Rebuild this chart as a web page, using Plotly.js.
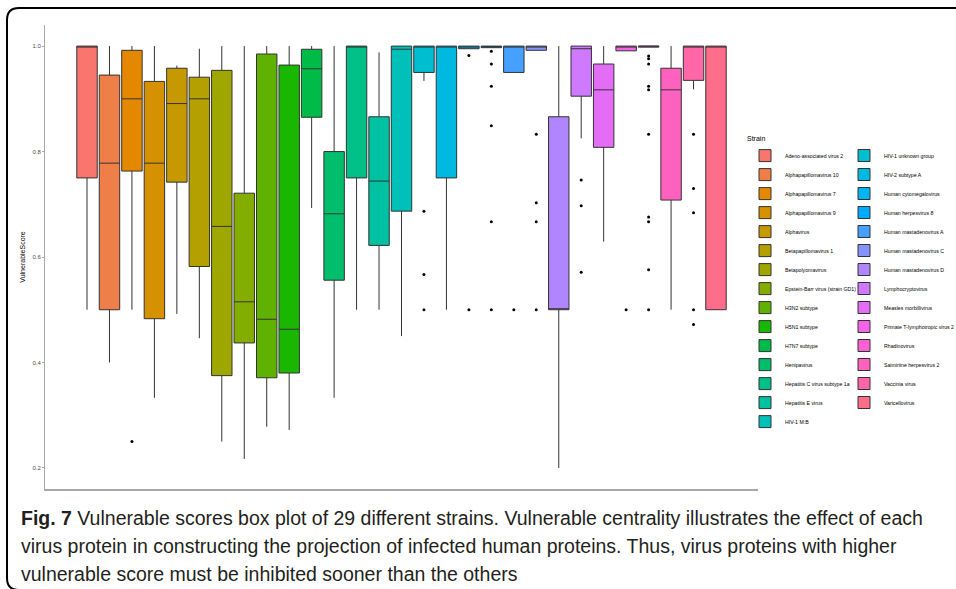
<!DOCTYPE html>
<html><head><meta charset="utf-8">
<script src="https://cdn.plot.ly/plotly-3.0.1.min.js"></script>
<style>html,body{margin:0;padding:0;background:#fff;} #chart{width:956px;height:589px;}</style>
</head><body><div id="chart"></div>
<script>
const strains = [
  'Adeno-associated virus 2', 'Alphapapillomavirus 10', 'Alphapapillomavirus 7', 'Alphapapillomavirus 9',
  'Alphavirus', 'Betapapillomavirus 1', 'Betapolyomavirus', 'Epstein-Barr virus (strain GD1)',
  'H3N2 subtype', 'H5N1 subtype', 'H7N7 subtype', 'Henipavirus', 'Hepatitis C virus subtype 1a',
  'Hepatitis E virus', 'HIV-1 M:B', 'HIV-1 unknown group', 'HIV-2 subtype A', 'Human cytomegalovirus',
  'Human herpesvirus 8', 'Human mastadenovirus A', 'Human mastadenovirus C', 'Human mastadenovirus D',
  'Lymphocryptovirus', 'Measles morbillivirus', 'Primate T-lymphotropic virus 2', 'Rhadinovirus',
  'Saimiriine herpesvirus 2', 'Vaccinia virus', 'Varicellovirus'
];
const lowerFence = [0.5, 0.4, 0.5, 0.333, 0.492, 0.446, 0.25, 0.217, 0.278, 0.272, 0.693, 0.333, 0.5, 0.5, 0.45,
  0.934, 0.5, 0.995, 0.997, 0.95, 0.992, 0.2, 0.825, 0.629, 0.991, 0.998, 0.5, 0.918, 0.5];
const q1 = [0.75, 0.5, 0.763, 0.483, 0.742, 0.582, 0.375, 0.437, 0.371, 0.38, 0.865, 0.556, 0.75, 0.622, 0.687,
  0.95, 0.75, 0.995, 0.997, 0.95, 0.992, 0.5, 0.905, 0.808, 0.991, 0.998, 0.708, 0.935, 0.5];
const median = [1.0, 0.778, 0.9, 0.778, 0.891, 0.9, 0.658, 0.515, 0.482, 0.463, 0.957, 0.682, 1.0, 0.744, 0.994,
  1.0, 1.0, 1.0, 1.0, 1.0, 1.0, 0.5, 0.995, 0.917, 1.0, 1.0, 0.917, 1.0, 1.0];
const q3 = [1.0, 0.945, 0.992, 0.933, 0.958, 0.941, 0.954, 0.721, 0.985, 0.964, 0.994, 0.8, 1.0, 0.866, 1.0,
  1.0, 1.0, 1.0, 1.0, 1.0, 1.0, 0.866, 1.0, 0.966, 1.0, 1.0, 0.958, 1.0, 1.0];
const upperFence = [1.0, 1.0, 1.0, 1.0, 0.963, 0.995, 1.0, 1.0, 1.0, 1.0, 1.0, 1.0, 1.0, 0.988, 1.0,
  1.0, 1.0, 1.0, 1.0, 1.0, 1.0, 1.0, 1.0, 1.0, 1.0, 1.0, 1.0, 1.0, 1.0];
const outliers = [
  [], [], [0.25], [], [], [], [], [], [], [], [], [], [], [], [],
  [0.687, 0.567, 0.5], [], [0.982, 0.5], [0.99, 0.966, 0.924, 0.849, 0.667, 0.5], [0.5],
  [0.833, 0.703, 0.667, 0.5], [], [0.746, 0.697, 0.571], [], [0.5],
  [0.981, 0.976, 0.966, 0.924, 0.917, 0.833, 0.676, 0.667, 0.576, 0.5], [],
  [0.833, 0.73, 0.684, 0.5, 0.472], []
];
const yTickValues = [0.2, 0.4, 0.6, 0.8, 1.0];
const yTickLabels = ['0.2', '0.4', '0.6', '0.8', '1.0'];
const yTitle = 'VulnerableScore';
const legendTitle = 'Strain';
const captionLines = [
  '<b>Fig. 7</b> Vulnerable scores box plot of 29 different strains. Vulnerable centrality illustrates the effect of each',
  'virus protein in constructing the projection of infected human proteins. Thus, virus proteins with higher',
  'vulnerable score must be inhibited sooner than the others'
];

// ggplot2-style hue palette (HCL -> sRGB)
function hcl(h, c, l) {
  const hr = h * Math.PI / 180;
  const u = c * Math.cos(hr), v = c * Math.sin(hr);
  const Xn = 95.047, Yn = 100, Zn = 108.883;
  const den = Xn + 15 * Yn + 3 * Zn;
  const un = 4 * Xn / den, vn = 9 * Yn / den;
  const Y = Yn * Math.pow((l + 16) / 116, 3);
  const up = u / (13 * l) + un, vp = v / (13 * l) + vn;
  const X = Y * 9 * up / (4 * vp);
  const Z = Y * (12 - 3 * up - 20 * vp) / (4 * vp);
  const x = X / 100, y = Y / 100, z = Z / 100;
  const r = 3.2404542 * x - 1.5371385 * y - 0.4985314 * z;
  const g = -0.9692660 * x + 1.8760108 * y + 0.0415560 * z;
  const b = 0.0556434 * x - 0.2040259 * y + 1.0572252 * z;
  const gam = t => { t = t <= 0.0031308 ? 12.92 * t : 1.055 * Math.pow(t, 1 / 2.4) - 0.055; return Math.round(255 * Math.min(1, Math.max(0, t))); };
  return 'rgb(' + gam(r) + ',' + gam(g) + ',' + gam(b) + ')';
}
const nS = strains.length;
const colors = strains.map((_, i) => hcl(15 + 360 * i / nS, 100, 65));

const FONT = 'Liberation Sans, Arial, sans-serif';
const W = 956, H = 589, ML = 45, MR = 198, MT = 25, MB = 100;
const pw = W - ML - MR, ph = H - MT - MB;
const px2x = p => (p - ML) / pw;
const py2y = p => 1 - (p - MT) / ph;

const boxTraces = strains.map((s, i) => ({
  type: 'box', name: s, x: [s],
  q1: [q1[i]], median: [median[i]], q3: [q3[i]],
  lowerfence: [lowerFence[i]], upperfence: [upperFence[i]],
  fillcolor: colors[i], line: { color: '#333333', width: 1 },
  whiskerwidth: 0, boxpoints: false, hoverinfo: 'skip',
  legend: i < 15 ? 'legend' : 'legend2'
}));
const outX = [], outY = [];
outliers.forEach((arr, i) => arr.forEach(v => { outX.push(strains[i]); outY.push(v); }));
const outlierTrace = {
  type: 'scatter', mode: 'markers', x: outX, y: outY,
  marker: { color: '#000', size: 3 }, showlegend: false, hoverinfo: 'skip'
};

const bx0 = 7, by0 = 8, by1 = 590, br = 12, bx1 = 975;
const borderPath = `M${px2x(bx1)},${py2y(by0)} L${px2x(bx0 + br)},${py2y(by0)} Q${px2x(bx0)},${py2y(by0)} ${px2x(bx0)},${py2y(by0 + br)} L${px2x(bx0)},${py2y(by1 - br)} Q${px2x(bx0)},${py2y(by1)} ${px2x(bx0 + br)},${py2y(by1)} L${px2x(bx1)},${py2y(by1)}`;

const layout = {
  width: W, height: H,
  margin: { l: ML, r: MR, t: MT, b: MB, autoexpand: false },
  paper_bgcolor: '#fff', plot_bgcolor: '#fff',
  font: { family: FONT, color: '#000' },
  showlegend: true,
  boxmode: 'overlay', boxgap: 0.09, boxgroupgap: 0,
  xaxis: {
    type: 'category', categoryorder: 'array', categoryarray: strains,
    range: [-1.87, 29.87], showticklabels: false, ticks: '', showgrid: false, zeroline: false,
    showline: true, linecolor: '#a8a8a8', linewidth: 2, fixedrange: true
  },
  yaxis: {
    range: [0.16, 1.04], tickvals: yTickValues, ticktext: yTickLabels,
    ticks: 'outside', ticklen: 2, tickwidth: 1, tickcolor: '#a8a8a8',
    tickfont: { size: 6, color: '#4d4d4d', family: FONT },
    showgrid: false, zeroline: false, showline: true, linecolor: '#a8a8a8', linewidth: 1,
    title: { text: yTitle, font: { size: 7, color: '#000', family: FONT }, standoff: 6 },
    fixedrange: true
  },
  legend: {
    x: px2x(745), xanchor: 'left', y: py2y(132), yanchor: 'top',
    title: { text: legendTitle, font: { size: 7, family: FONT } },
    font: { size: 5.2, family: FONT, color: '#000' }, bgcolor: 'rgba(0,0,0,0)', traceorder: 'normal'
  },
  legend2: {
    x: px2x(844), xanchor: 'left', y: py2y(141), yanchor: 'top',
    font: { size: 5.2, family: FONT, color: '#000' }, bgcolor: 'rgba(0,0,0,0)', traceorder: 'normal'
  },
  shapes: [{ type: 'path', xref: 'paper', yref: 'paper', path: borderPath, line: { color: '#000', width: 2 } }],
  annotations: captionLines.map((t, i) => ({
    xref: 'paper', yref: 'paper', x: px2x(19), y: py2y(518 + 28 * i),
    xanchor: 'left', yanchor: 'middle', showarrow: false, text: t,
    font: { size: 19.5, color: '#231f20', family: FONT }
  }))
};

Plotly.newPlot('chart', boxTraces.concat([outlierTrace]), layout, { displayModeBar: false, staticPlot: true });
</script>
</body></html>
